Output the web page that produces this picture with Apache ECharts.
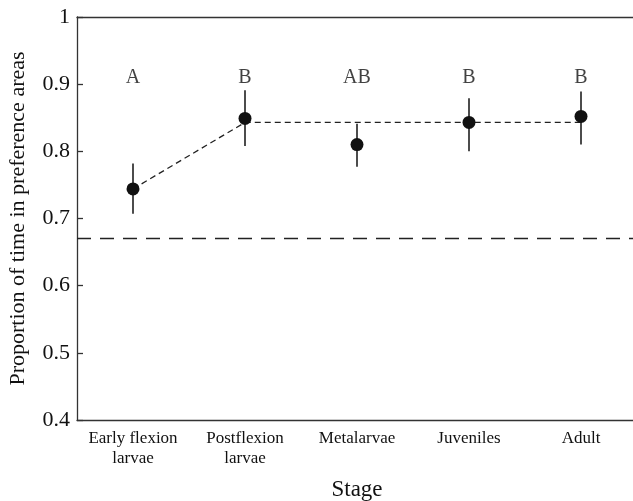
<!DOCTYPE html>
<html>
<head>
<meta charset="utf-8">
<script src="https://cdn.jsdelivr.net/npm/echarts@6/dist/echarts.min.js"></script>
<style>
  html, body { margin: 0; padding: 0; background: #fff; }
  #chart { width: 633px; height: 501px; }
</style>
</head>
<body>
<div id="chart"></div>
<script>
// stages on the x axis
const stages = ['Early flexion\nlarvae', 'Postflexion\nlarvae', 'Metalarvae', 'Juveniles', 'Adult'];
// mean proportion and error bar ends
const means = [0.744, 0.849, 0.810, 0.843, 0.852];
const lower = [0.707, 0.808, 0.777, 0.800, 0.810];
const upper = [0.782, 0.891, 0.841, 0.879, 0.889];
// post-hoc group letters
const groupLetters = ['A', 'B', 'AB', 'B', 'B'];
// dotted group line
const groupLine = [0.744, 0.843, 0.843, 0.843, 0.843];
const chanceLevel = 0.667;

const font = 'Liberation Serif';
const ink = '#111';
const axisColor = '#333';

const options = {
  animation: false,
  backgroundColor: '#fff',
  grid: {
    left: 77,
    top: 17,
    width: 560,
    height: 403,
    outerBoundsMode: 'none',
  },
  xAxis: [{
    type: 'category',
    data: stages,
    boundaryGap: true,
    name: 'Stage',
    nameLocation: 'middle',
    nameGap: 58,
    nameTextStyle: { fontFamily: font, fontSize: 23, color: ink },
    axisLine: { lineStyle: { color: axisColor, width: 1.3 } },
    axisTick: { alignWithLabel: true, inside: true, length: 6, lineStyle: { color: axisColor, width: 1.3 } },
    axisLabel: { interval: 0, fontFamily: font, fontSize: 17, color: ink, lineHeight: 20, margin: 9 },
    splitLine: { show: false },
  }, {
    // top frame line
    type: 'category',
    data: stages,
    position: 'top',
    axisLine: { lineStyle: { color: axisColor, width: 1.3 } },
    axisTick: { show: false },
    axisLabel: { show: false },
  }],
  yAxis: {
    type: 'value',
    min: 0.4,
    max: 1,
    interval: 0.1,
    name: 'Proportion of time in preference areas',
    nameLocation: 'middle',
    nameGap: 48,
    nameTextStyle: { fontFamily: font, fontSize: 22, color: ink },
    axisLine: { show: true, lineStyle: { color: axisColor, width: 1.3 } },
    axisTick: { show: true, inside: true, length: 6, lineStyle: { color: axisColor, width: 1.3 } },
    axisLabel: {
      fontFamily: font,
      fontSize: 22,
      color: ink,
      margin: 7,
      formatter(v) {
        const r = Math.round(v * 10) / 10;
        return r === 1 ? '1' : r.toFixed(1);
      },
    },
    splitLine: { show: false },
  },
  series: [
    {
      type: 'line',
      data: groupLine,
      symbol: 'none',
      lineStyle: { color: '#222', width: 1.3, type: [6, 4] },
      z: 2,
      markLine: {
        silent: true,
        symbol: 'none',
        label: { show: false },
        lineStyle: { color: '#222', width: 1.3, type: [14, 9] },
        data: [{ yAxis: chanceLevel }],
      },
    },
    {
      type: 'custom',
      data: stages.map((s, i) => [i, lower[i], upper[i]]),
      renderItem(params, api) {
        const x = api.value(0);
        const lo = api.coord([x, api.value(1)]);
        const hi = api.coord([x, api.value(2)]);
        return {
          type: 'line',
          shape: { x1: lo[0], y1: lo[1], x2: hi[0], y2: hi[1] },
          style: { stroke: ink, lineWidth: 1.5 },
        };
      },
      z: 3,
    },
    {
      type: 'scatter',
      data: means,
      symbol: 'circle',
      symbolSize: 13,
      itemStyle: { color: ink, opacity: 1 },
      z: 4,
    },
    {
      type: 'scatter',
      data: groupLetters.map((l, i) => [i, 0.91]),
      symbolSize: 0,
      label: {
        show: true,
        position: 'inside',
        fontFamily: font,
        fontSize: 20,
        color: ink,
        formatter(p) { return groupLetters[p.dataIndex]; },
      },
      z: 5,
    },
  ],
};

const myChart = echarts.init(document.getElementById('chart'));
myChart.setOption(options);
</script>
</body>
</html>
